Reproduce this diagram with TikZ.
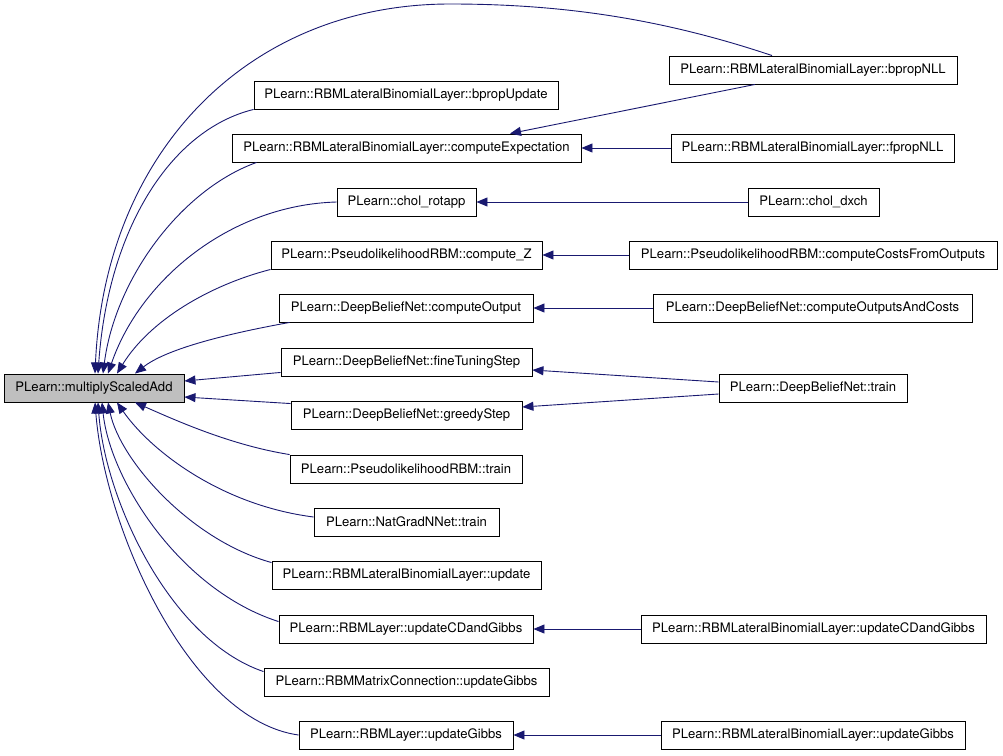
\documentclass[tikz,border=0pt]{standalone}
\usepackage{fontspec}
\setmainfont{TeX Gyre Heros}
\usetikzlibrary{arrows.meta}
\definecolor{edgeblue}{RGB}{25,25,112}
\definecolor{mainfill}{RGB}{191,191,191}
\begin{document}
\begin{tikzpicture}[x=1pt,y=-1pt,
  box/.style={draw=black,line width=0.9pt,fill=white,inner sep=0pt,minimum height=28pt,
    font=\fontsize{13.1}{15}\selectfont},
  mainbox/.style={box,fill=mainfill},
  edge/.style={draw=edgeblue,line width=0.9pt,-{Triangle[length=11pt,width=9pt]}}]
\useasboundingbox (0,0) rectangle (1003,755);
% main node
\node[mainbox,minimum width=180pt] (main) at (94,388) {PLearn::multiplyScaledAdd};
% middle column
\node[box,minimum width=304pt] (bpu)  at (406,95)    {PLearn::RBMLateralBinomialLayer::bpropUpdate};
\node[box,minimum width=349pt] (cexp) at (406.5,148) {PLearn::RBMLateralBinomialLayer::computeExpectation};
\node[box,minimum width=139pt] (chol) at (406.5,202) {PLearn::chol\_rotapp};
\node[box,minimum width=271pt] (cz)   at (406.5,255) {PLearn::PseudolikelihoodRBM::compute\_Z};
\node[box,minimum width=254pt] (cout) at (406,308)   {PLearn::DeepBeliefNet::computeOutput};
\node[box,minimum width=251pt] (fts)  at (406.5,362) {PLearn::DeepBeliefNet::fineTuningStep};
\node[box,minimum width=231pt] (gs)   at (406.5,415) {PLearn::DeepBeliefNet::greedyStep};
\node[box,minimum width=232pt] (plt)  at (406,469)   {PLearn::PseudolikelihoodRBM::train};
\node[box,minimum width=185pt] (ngt)  at (406.5,522) {PLearn::NatGradNNet::train};
\node[box,minimum width=269pt] (upd)  at (406.5,575) {PLearn::RBMLateralBinomialLayer::update};
\node[box,minimum width=254pt] (ucd)  at (406,629)   {PLearn::RBMLayer::updateCDandGibbs};
\node[box,minimum width=285pt] (mcg)  at (406.5,682) {PLearn::RBMMatrixConnection::updateGibbs};
\node[box,minimum width=214pt] (ug)   at (406,735)   {PLearn::RBMLayer::updateGibbs};
% right column
\node[box,minimum width=288pt] (bnll) at (813,70)    {PLearn::RBMLateralBinomialLayer::bpropNLL};
\node[box,minimum width=283pt] (fnll) at (812.5,148) {PLearn::RBMLateralBinomialLayer::fpropNLL};
\node[box,minimum width=131pt] (dxch) at (813.5,202) {PLearn::chol\_dxch};
\node[box,minimum width=368pt] (ccfo) at (813,255)   {PLearn::PseudolikelihoodRBM::computeCostsFromOutputs};
\node[box,minimum width=319pt] (coac) at (812.5,308) {PLearn::DeepBeliefNet::computeOutputsAndCosts};
\node[box,minimum width=188pt] (dbnt) at (813,388)   {PLearn::DeepBeliefNet::train};
\node[box,minimum width=345pt] (lucd) at (813.5,629) {PLearn::RBMLateralBinomialLayer::updateCDandGibbs};
\node[box,minimum width=304pt] (lug)  at (813,735)   {PLearn::RBMLateralBinomialLayer::updateGibbs};
\coordinate (peak) at (450,4);
% edges into main (top)
\draw[edge] ([xshift=-41pt]bnll.north) .. controls (660,18) and (560,4) .. (peak)
  .. controls (250,4) and (105,150) .. ([xshift=1pt]main.north);
\draw[edge] (bpu.south west) .. controls (170,130) and (108,230) .. ([xshift=4pt]main.north);
\draw[edge] ([xshift=25pt]cexp.south west) .. controls (180,190) and (115,280) .. ([xshift=9pt]main.north);
\draw[edge] (chol.west) .. controls (230,205) and (140,280) .. ([xshift=14pt]main.north);
\draw[edge] (cz.south west) .. controls (210,285) and (150,320) .. ([xshift=23pt]main.north);
\draw[edge] ([xshift=11pt]cout.south west) .. controls (220,335) and (165,350) .. ([xshift=41pt]main.north);
% straight ones
\draw[edge] ([yshift=4pt]fts.south west) -- ([yshift=7pt]main.east);
\draw[edge] ([yshift=-3pt]gs.north west) -- ([yshift=-9pt]main.east);
% edges into main (bottom)
\draw[edge] (plt.north west) .. controls (230,445) and (175,420) .. ([xshift=41pt]main.south);
\draw[edge] ([yshift=5pt]ngt.west) .. controls (220,505) and (150,450) .. ([xshift=23pt]main.south);
\draw[edge] ([yshift=-2pt]upd.north west) .. controls (190,540) and (120,460) .. ([xshift=14pt]main.south);
\draw[edge] ([yshift=-7pt]ucd.north west) .. controls (180,590) and (110,480) .. ([xshift=8pt]main.south);
\draw[edge] ([yshift=-4pt]mcg.north west) .. controls (170,640) and (105,500) .. ([xshift=4pt]main.south);
\draw[edge] (ug.west) .. controls (190,720) and (105,530) .. ([xshift=1pt]main.south);
% second level
\draw[edge] ([xshift=-58pt]bnll.south) -- ([xshift=103.5pt]cexp.north);
\draw[edge] (fnll.west) -- (cexp.east);
\draw[edge] (dxch.west) -- (chol.east);
\draw[edge] (ccfo.west) -- (cz.east);
\draw[edge] (coac.west) -- (cout.east);
\draw[edge] ([yshift=6pt]dbnt.west) -- ([yshift=-8pt]fts.east);
\draw[edge] ([yshift=-6pt]dbnt.west) -- ([yshift=8pt]gs.east);
\draw[edge] (lucd.west) -- (ucd.east);
\draw[edge] (lug.west) -- (ug.east);
\end{tikzpicture}
\end{document}
